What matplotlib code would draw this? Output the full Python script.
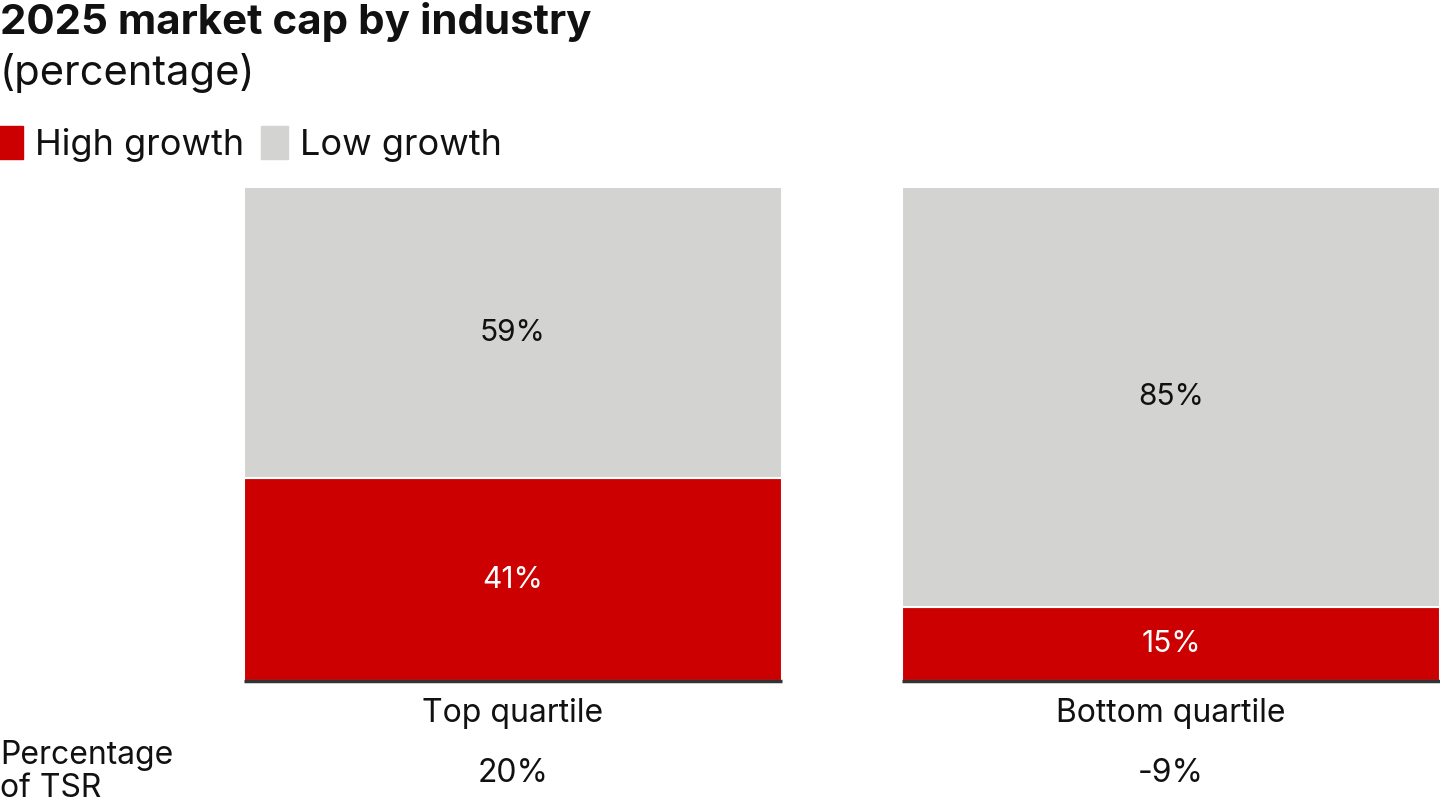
import matplotlib.pyplot as plt
from matplotlib.patches import Patch
from matplotlib.transforms import blended_transform_factory

plt.rcParams['font.family'] = ['Inter', 'DejaVu Sans']

# data
quartiles = ['Top quartile', 'Bottom quartile']
high_growth = [41, 15]
low_growth = [59, 85]
tsr = ['20%', '-9%']

red = '#cc0000'
grey = '#d3d3d1'
ink = '#111111'

fig = plt.figure(figsize=(14.4, 8.1), dpi=100)
ax = fig.add_axes([244 / 1440, 129 / 810, 1196 / 1440, 494 / 810])

w = 538 / 658
x = list(range(len(quartiles)))
b1 = ax.bar(x, high_growth, width=w, color=red, edgecolor='white', linewidth=1.5)
b2 = ax.bar(x, low_growth, width=w, bottom=high_growth, color=grey, edgecolor='white', linewidth=1.5)

ax.bar_label(b1, labels=[f'{v}%' for v in high_growth], label_type='center', color='white', fontsize=21.5)
ax.bar_label(b2, labels=[f'{v}%' for v in low_growth], label_type='center', color=ink, fontsize=21.5)

# baseline only under each bar
ax.hlines([0] * len(x), [i - w / 2 for i in x], [i + w / 2 for i in x],
          color='#333333', linewidth=2.5, clip_on=False, zorder=5)

ax.set_xlim(-w / 2, 1 + w / 2)
ax.set_ylim(0, 100)
ax.set_yticks([])
ax.set_xticks(x)
ax.set_xticklabels(quartiles, fontsize=23, color=ink)
ax.tick_params(axis='x', length=0, pad=12)
for s in ax.spines.values():
    s.set_visible(False)

# TSR row under the bars
tr = blended_transform_factory(ax.transData, fig.transFigure)
for i, t in enumerate(tsr):
    ax.text(i, 1 - 773 / 810, t, transform=tr, ha='center', va='center', fontsize=23, color=ink)
fig.text(0.0, 1 - 772 / 810, 'Percentage\nof TSR', ha='left', va='center', fontsize=23,
         color=ink, linespacing=1.1)

# titles
fig.text(0.0, 1 - 22 / 810, '2025 market cap by industry', ha='left', va='center',
         fontsize=30.3, fontweight='bold', color=ink)
fig.text(0.0, 1 - 73 / 810, '(percentage)', ha='left', va='center', fontsize=30, color=ink)

handles = [Patch(color=red, label='High growth'), Patch(color=grey, label='Low growth')]
fig.legend(handles=handles, loc='center left', bbox_to_anchor=(-0.003, 1 - 144 / 810), ncol=2,
           frameon=False, fontsize=26, handlelength=0.75, handleheight=1.0,
           handletextpad=0.35, columnspacing=0.45, borderaxespad=0, borderpad=0, labelcolor=ink)

fig.savefig('out.png', dpi=100)
